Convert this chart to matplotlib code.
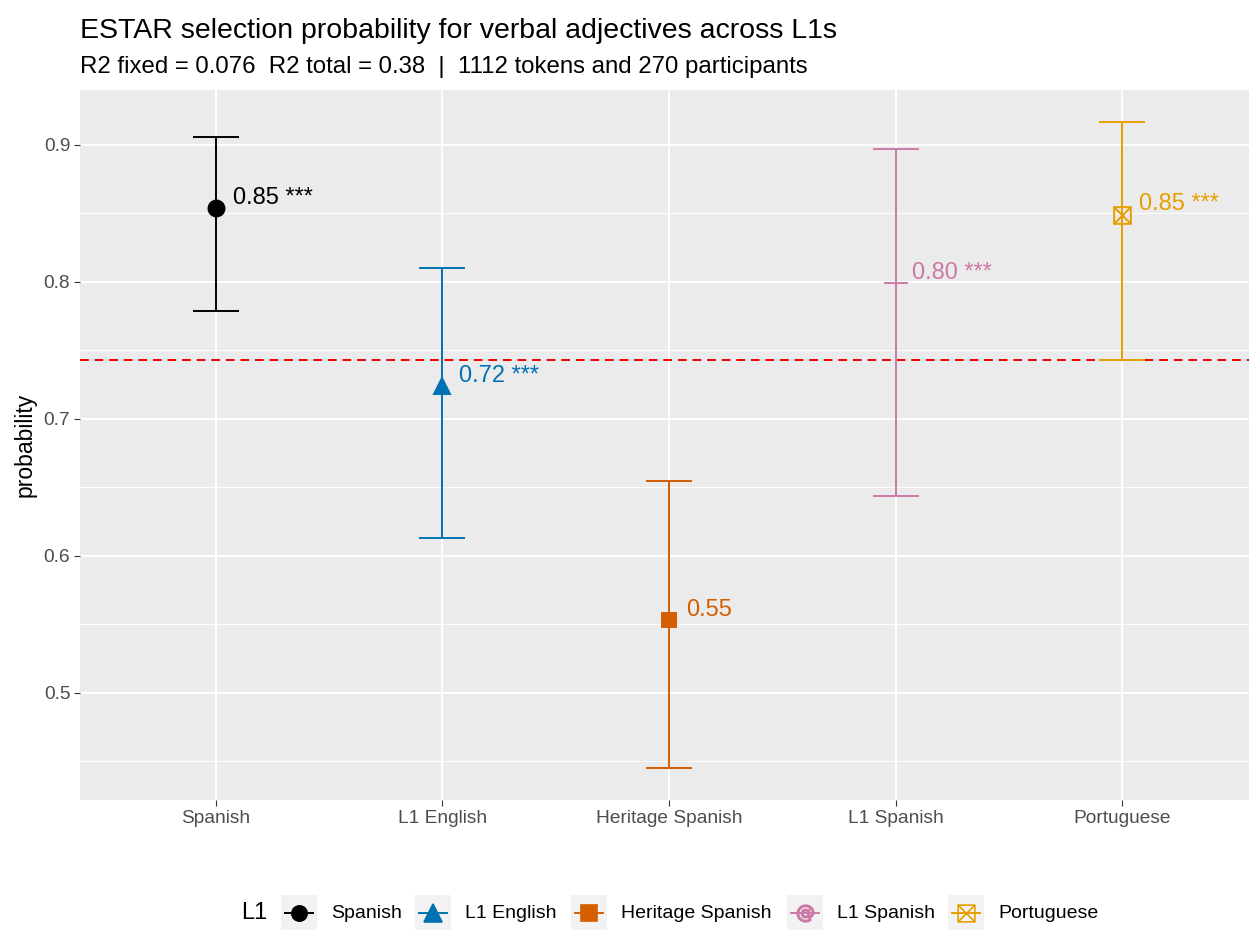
import matplotlib
matplotlib.use("Agg")
import matplotlib.pyplot as plt
from matplotlib.lines import Line2D
from matplotlib.patches import Rectangle
from matplotlib.path import Path

plt.rcParams['font.family'] = ['Liberation Sans', 'DejaVu Sans']

groups = ["Spanish", "L1 English", "Heritage Spanish", "L1 Spanish", "Portuguese"]
prob = [0.854, 0.724, 0.553, 0.799, 0.849]
lower = [0.779, 0.613, 0.445, 0.644, 0.743]
upper = [0.906, 0.810, 0.655, 0.897, 0.917]
labels = ["0.85 ***", "0.72 ***", "0.55", "0.80 ***", "0.85 ***"]
colors = ["#000000", "#0072B2", "#D55E00", "#CC79A7", "#E69F00"]
reference_line = 0.743
yticks = [0.5, 0.6, 0.7, 0.8, 0.9]

# square with both diagonals (open marker)
box_x = Path([(-1, -1), (1, -1), (1, 1), (-1, 1), (-1, -1),
              (-1, -1), (1, 1), (-1, 1), (1, -1)],
             [Path.MOVETO, Path.LINETO, Path.LINETO, Path.LINETO, Path.CLOSEPOLY,
              Path.MOVETO, Path.LINETO, Path.MOVETO, Path.LINETO])

markers = ["o", "^", "s", "_", box_x]
marker_sizes = [11.5, 12, 10.5, 17, 12]
marker_fill = ["full", "full", "full", "full", "none"]

W, H = 1249, 930
fig = plt.figure(figsize=(W / 100, H / 100), dpi=100)
ax = fig.add_axes([80 / W, 1 - 800 / H, (W - 80) / W, (800 - 90) / H])
ax.set_facecolor("#EBEBEB")
for s in ax.spines.values():
    s.set_visible(False)

ax.set_xlim(0.4, 5.56)
ax.set_ylim(0.4219, 0.9401)
ax.set_yticks(yticks)
ax.set_yticks([0.45, 0.55, 0.65, 0.75, 0.85], minor=True)
ax.set_xticks(range(1, len(groups) + 1))
ax.set_xticklabels(groups)
ax.grid(True, which="major", color="white", linewidth=1.4)
ax.grid(True, which="minor", axis="y", color="white", linewidth=0.7)
ax.set_axisbelow(True)
ax.tick_params(axis="both", which="major", length=4, color="#333333",
               labelsize=13.8, labelcolor="#4D4D4D")
ax.tick_params(axis="x", pad=3)
ax.tick_params(axis="y", pad=3)
ax.tick_params(which="minor", length=0)
ax.set_ylabel("probability", fontsize=16.5, labelpad=5)

for i, g in enumerate(groups):
    x = i + 1
    ax.errorbar(x, prob[i], yerr=[[prob[i] - lower[i]], [upper[i] - prob[i]]],
                fmt="none", ecolor=colors[i], elinewidth=1.4, capsize=16.6,
                capthick=1.4, zorder=3)
    ax.plot(x, prob[i], marker=markers[i], color=colors[i], markersize=marker_sizes[i],
            fillstyle=marker_fill[i], linestyle="none", zorder=4,
            markeredgewidth=1.4)
    ax.annotate(labels[i], (x, prob[i]), xytext=(12, 7.5), textcoords="offset points",
                ha="left", va="center", fontsize=17, color=colors[i], zorder=5)

ax.axhline(reference_line, color="#EE0000", linestyle=(0, (4.5, 3)), linewidth=1.4, zorder=2)

fig.text(80 / W, 1 - 31 / H, "ESTAR selection probability for verbal adjectives across L1s",
         fontsize=20.5, va="center", ha="left")
fig.text(80 / W, 1 - 67 / H,
         "R2 fixed = 0.076  R2 total = 0.38  |  1112 tokens and 270 participants",
         fontsize=17.3, va="center", ha="left")

# legend along the bottom
ly = 913
fig.text(241 / W, 1 - ly / H, "L1", fontsize=17, va="center", ha="left")
key_x = [299, 433, 589, 805, 966]
legend_markers = ["o", "^", "s", "$@$", box_x]
legend_marker_sizes = [11, 13, 11, 12, 12]
for i, g in enumerate(groups):
    kx = key_x[i]
    fig.patches.append(Rectangle(((kx - 18) / W, 1 - (ly + 18) / H), 36 / W, 36 / H,
                                 transform=fig.transFigure, facecolor="#F2F2F2",
                                 edgecolor="none"))
    fig.lines.append(Line2D([(kx - 14) / W, (kx + 14) / W], [1 - ly / H, 1 - ly / H],
                            transform=fig.transFigure, color=colors[i], linewidth=1.4))
    fig.lines.append(Line2D([kx / W], [1 - ly / H], transform=fig.transFigure,
                            marker=legend_markers[i], markersize=legend_marker_sizes[i],
                            fillstyle=marker_fill[i], color=colors[i],
                            linestyle="none", markeredgewidth=1.2))
    fig.text((kx + 32) / W, 1 - ly / H, g, fontsize=14, va="center", ha="left")

fig.savefig("out.png", dpi=100)
